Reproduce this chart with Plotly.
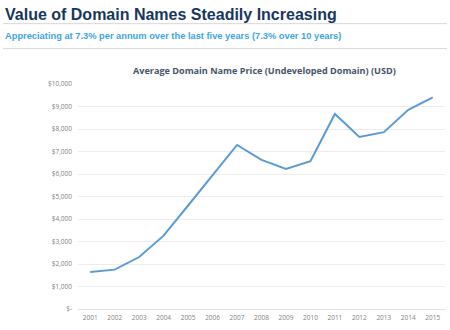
import plotly.graph_objects as go

years = [str(y) for y in range(2001, 2016)]
prices = [1650, 1750, 2310, 3260, 4600, 5920, 7290, 6630, 6220, 6570, 8670, 7650, 7860, 8850, 9410]
ytick_vals = [0, 1000, 2000, 3000, 4000, 5000, 6000, 7000, 8000, 9000, 10000]
ytick_text = ["$-", "$1,000", "$2,000", "$3,000", "$4,000", "$5,000", "$6,000", "$7,000", "$8,000", "$9,000", "$10,000"]

W, H = 450, 330
L, R, T, B = 78, 5, 84, 20.5
pw, ph = W - L - R, H - T - B

def px(x):
    return (x - L) / pw

def py(y):
    return 1 - (y - T) / ph

fig = go.Figure()
fig.add_trace(go.Scatter(x=years, y=prices, mode="lines",
                         line=dict(color="#5B9BD5", width=2), hoverinfo="skip"))

fig.update_layout(
    width=W, height=H,
    margin=dict(l=L, r=R, t=T, b=B),
    paper_bgcolor="white", plot_bgcolor="white",
    showlegend=False,
    xaxis=dict(type="category", range=[-0.5, 14.5], showgrid=False,
               showline=True, linecolor="#E3E3E3", linewidth=1,
               ticks="", tickfont=dict(family="Open Sans", size=6.5, color="#7F7F7F"),
               ticklabelstandoff=2, zeroline=False),
    yaxis=dict(range=[0, 10000], tickvals=ytick_vals, ticktext=ytick_text,
               showgrid=True, gridcolor="#EDEDED", gridwidth=1, zeroline=False,
               ticks="", tickfont=dict(family="Open Sans", size=6.5, color="#7F7F7F"),
               ticklabelstandoff=5),
)

anns = [
    dict(text="<b>Value of Domain Names Steadily Increasing</b>", x=px(3), y=py(14.5),
         font=dict(family="Arial", size=16, color="#17375E")),
    dict(text="<b>Appreciating at 7.3% per annum over the last five years (7.3% over 10 years)</b>",
         x=px(3), y=py(35.5), font=dict(family="Arial", size=9.3, color="#3DA5E0")),
    dict(text="<b>Average Domain Name Price (Undeveloped Domain) (USD)</b>", x=px(131), y=py(70.5),
         font=dict(family="Open Sans", size=9.1, color="#44546A")),
]
for a in anns:
    fig.add_annotation(xref="paper", yref="paper", xanchor="left", yanchor="middle",
                       showarrow=False, **a)

for yy in (23.5, 48.5):
    fig.add_shape(type="line", xref="paper", yref="paper", x0=px(3), x1=px(447),
                  y0=py(yy), y1=py(yy), line=dict(color="#D9D9D9", width=1))

fig.write_html("out.html")
